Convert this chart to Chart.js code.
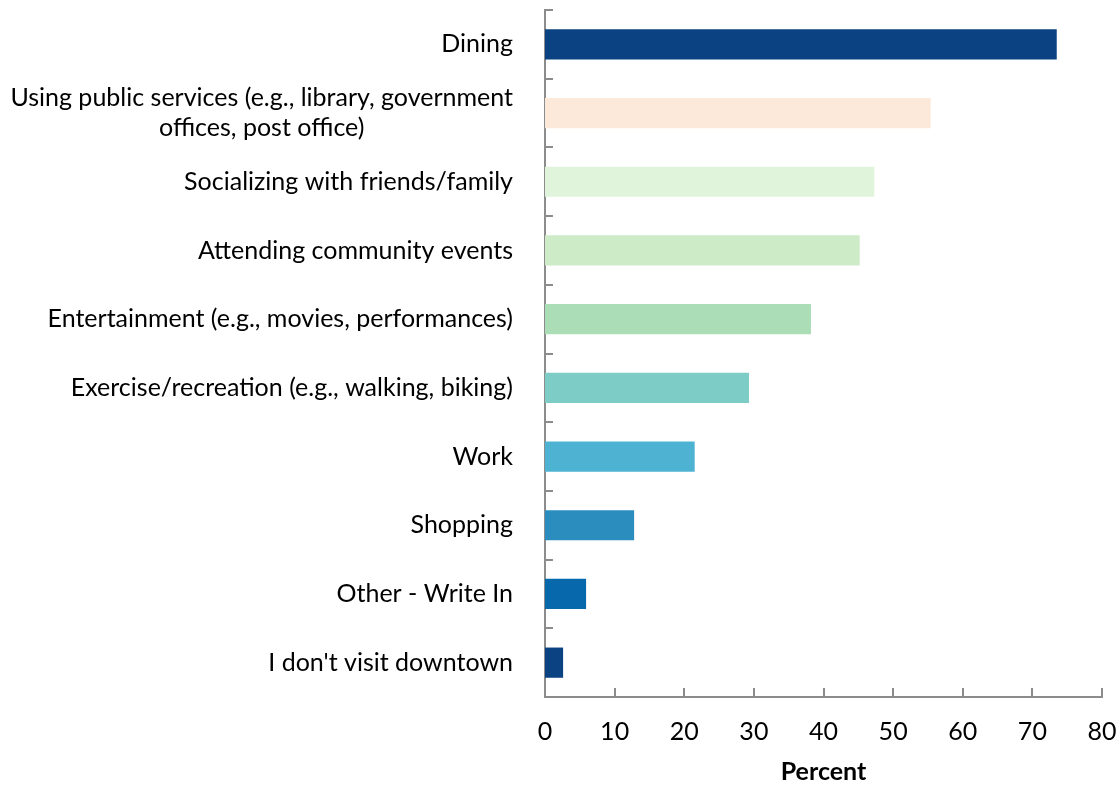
<!DOCTYPE html>
<html>
<head>
<meta charset="utf-8">
<script src="https://cdn.jsdelivr.net/npm/chart.js@4"></script>
<style>
  html, body { margin: 0; padding: 0; background: #fff; }
  #wrap { width: 1120px; height: 787px; position: relative; }
</style>
</head>
<body>
<div id="wrap"><canvas id="barChart"></canvas></div>
<script>
const categories = [
  "Dining",
  ["Using public services (e.g., library, government", "offices, post office)"],
  "Socializing with friends/family",
  "Attending community events",
  "Entertainment (e.g., movies, performances)",
  "Exercise/recreation (e.g., walking, biking)",
  "Work",
  "Shopping",
  "Other - Write In",
  "I don't visit downtown",
];
const percents = [73.5, 55.4, 47.3, 45.2, 38.2, 29.3, 21.5, 12.8, 5.9, 2.6];
const barColors = [
  "#0a4282", "#fde9da", "#e0f3db", "#cdebc7", "#abddb6",
  "#7dccc5", "#4eb3d3", "#2b8cbe", "#0868ac", "#0a4282",
];
const xTicks = [0, 10, 20, 30, 40, 50, 60, 70, 80];

const FONT = "Lato, 'Open Sans', sans-serif";
const AXIS_GREY = "#8c8c8c";

// category labels (multi-line ones centred as a block) and inward tick marks
const axisMarks = {
  id: "axisMarks",
  afterDraw(chart) {
    const { ctx, chartArea: area } = chart;
    const xs = chart.scales.x, ys = chart.scales.y;
    ctx.save();
    ctx.strokeStyle = AXIS_GREY;
    ctx.lineWidth = 2;
    ctx.beginPath();
    for (let i = 0; i <= categories.length; i++) {
      const py = Math.round(ys.getPixelForValue(i - 0.5));
      ctx.moveTo(area.left, py);
      ctx.lineTo(area.left + 8, py);
    }
    xs.ticks.forEach((t) => {
      const px = Math.round(xs.getPixelForValue(t.value));
      ctx.moveTo(px, area.bottom);
      ctx.lineTo(px, area.bottom - 9);
    });
    ctx.stroke();

    ctx.fillStyle = "#000";
    ctx.font = "25px " + FONT;
    ctx.textAlign = "center";
    ctx.textBaseline = "middle";
    const right = area.left - 32;
    categories.forEach((label, i) => {
      const lines = [].concat(label);
      const cy = ys.getPixelForValue(i);
      const w = Math.max(...lines.map((l) => ctx.measureText(l).width));
      lines.forEach((l, k) => {
        ctx.fillText(l, right - w / 2, cy + (k - (lines.length - 1) / 2) * 30);
      });
    });
    ctx.restore();
  },
};

const ctx = document.getElementById("barChart").getContext("2d");
new Chart(ctx, {
  type: "bar",
  data: {
    labels: categories,
    datasets: [
      {
        data: percents,
        backgroundColor: barColors,
        borderWidth: 0,
        barPercentage: 0.44,
        categoryPercentage: 1,
      },
    ],
  },
  options: {
    indexAxis: "y",
    responsive: true,
    maintainAspectRatio: false,
    animation: false,
    layout: { padding: { top: 10, right: 18, left: 0, bottom: 0 } },
    plugins: {
      legend: { display: false },
      tooltip: { enabled: false },
    },
    scales: {
      x: {
        min: 0,
        max: 80,
        afterBuildTicks: (scale) => {
          scale.ticks = xTicks.map((v) => ({ value: v }));
        },
        afterFit: (scale) => {
          scale.height = 90;
          scale.paddingLeft = 0;
          scale.paddingRight = 0;
        },
        grid: { display: false },
        border: { display: true, color: AXIS_GREY, width: 2 },
        ticks: {
          color: "#000",
          font: { family: FONT, size: 25 },
          padding: 12,
          maxRotation: 0,
        },
        title: {
          display: true,
          text: "Percent",
          color: "#000",
          font: { family: FONT, size: 25, weight: "bold" },
          padding: { top: 0, bottom: 0 },
        },
      },
      y: {
        afterFit: (scale) => {
          scale.width = 545;
        },
        grid: { display: false },
        border: { display: true, color: AXIS_GREY, width: 2 },
        ticks: { display: false },
      },
    },
  },
  plugins: [axisMarks],
});
</script>
</body>
</html>
